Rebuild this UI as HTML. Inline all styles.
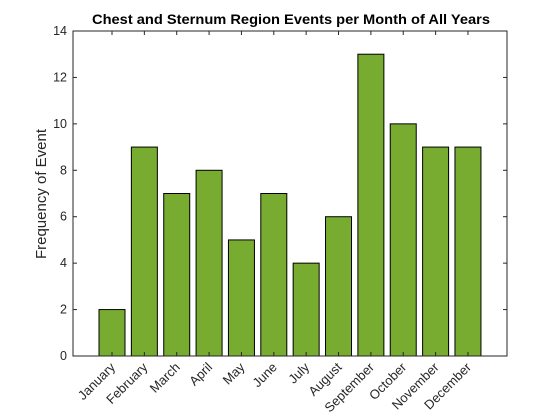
<!DOCTYPE html>
<html><head><meta charset="utf-8"><style>
body{margin:0;background:#fff;}
svg{display:block;font-family:"Liberation Sans",Arial,sans-serif;}
</style></head><body>
<svg id="c" width="560" height="420" viewBox="0 0 560 420">
<rect width="560" height="420" fill="#fff"/>
<text x="291" y="24" text-anchor="middle" font-size="14" font-weight="bold" fill="#000" textLength="398" lengthAdjust="spacingAndGlyphs">Chest and Sternum Region Events per Month of All Years</text>
<text transform="translate(46,194) rotate(-90)" text-anchor="middle" font-size="15" fill="#262626">Frequency of Event</text>
<g id="bars"></g>
<g id="axes"></g>
</svg>
<script>
const categories=["January","February","March","April","May","June","July","August","September","October","November","December"];
const values=[2,9,7,8,5,7,4,6,13,10,9,9];
const yTicks=[0,2,4,6,8,10,12,14];
const L=73,R=507,T=31,B=356;
function x(i){return 112+(i)*32.36;}
function y(v){return B-(v/14)*(B-T);}
const NS="http://www.w3.org/2000/svg";
function mk(tag,attrs,parent){const e=document.createElementNS(NS,tag);for(const k in attrs)e.setAttribute(k,attrs[k]);parent.appendChild(e);return e;}
const bars=document.getElementById('bars'),axes=document.getElementById('axes');
values.forEach((v,i)=>{
 const r=mk('rect',{x:x(i)-13,y:y(v),width:26,height:y(0)-y(v),fill:'#77ac30',stroke:'#000','stroke-width':1},bars);
 
 
});
const box=mk('rect',{x:L,y:T,width:R-L,height:B-T,fill:'none',stroke:'#262626','stroke-width':1},axes);


yTicks.forEach(t=>{
 mk('line',{x1:L,x2:L+4,y1:y(t),y2:y(t),stroke:'#262626'},axes);
 mk('line',{x1:R,x2:R-4,y1:y(t),y2:y(t),stroke:'#262626'},axes);
 const tx=mk('text',{x:L-6,y:y(t)+4,'text-anchor':'end','font-size':12.5,fill:'#262626'},axes);
 tx.textContent=t;
 
 
});
categories.forEach((c,i)=>{
 mk('line',{x1:x(i),x2:x(i),y1:B,y2:B-4,stroke:'#262626'},axes);
 mk('line',{x1:x(i),x2:x(i),y1:T,y2:T+4,stroke:'#262626'},axes);
 const tx=mk('text',{transform:`translate(${x(i)+4},${B+12}) rotate(-45)`,'text-anchor':'end','font-size':13,fill:'#262626'},axes);
 tx.textContent=c;
 
 
});
</script>
</body></html>
